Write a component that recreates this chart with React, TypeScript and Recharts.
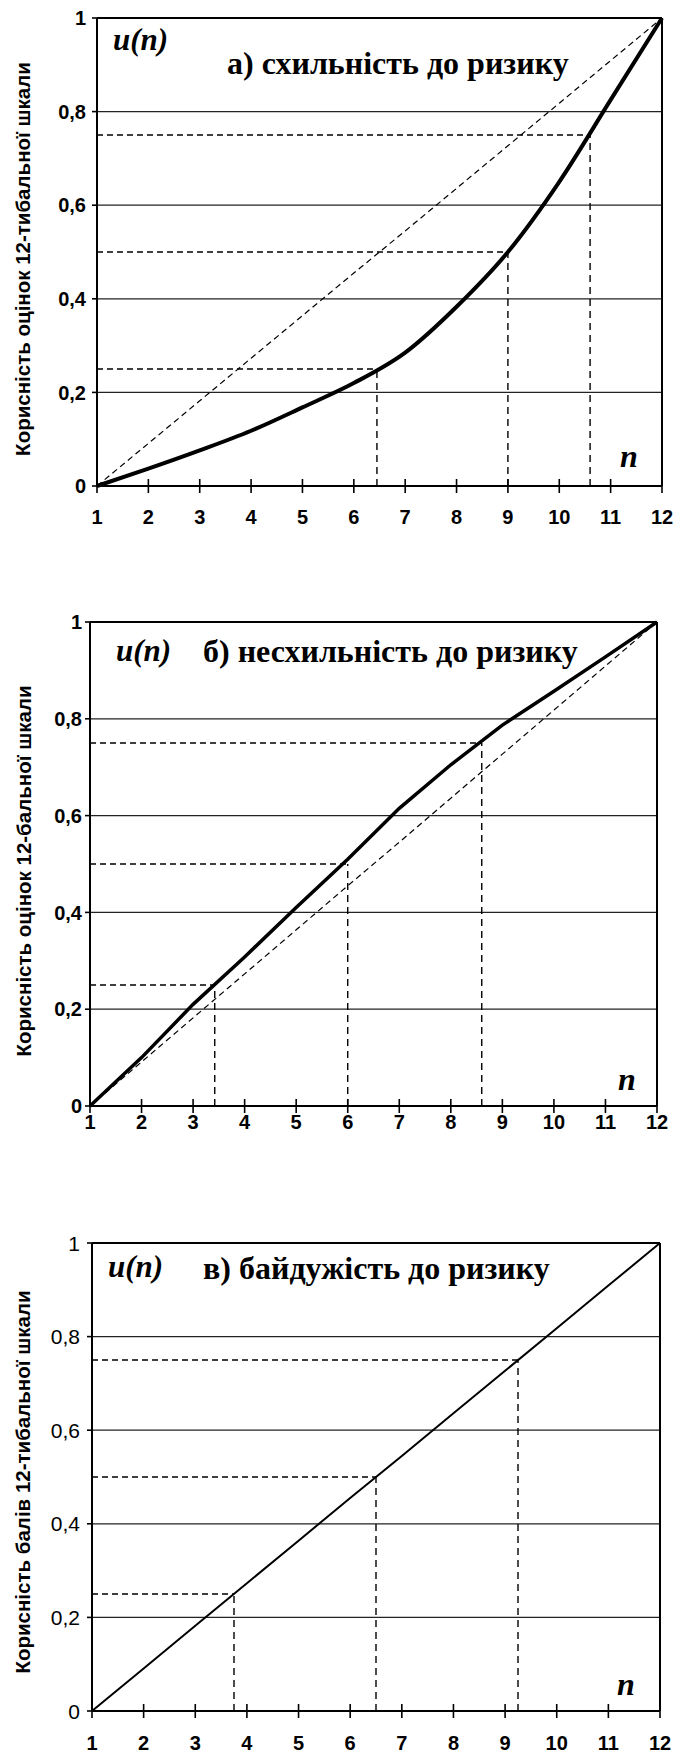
import { CartesianGrid, Line, LineChart, ReferenceLine, XAxis, YAxis } from "recharts";

const nValues = [1, 2, 3, 4, 5, 6, 7, 8, 9, 10, 11, 12];
const yTicks = [0, 0.2, 0.4, 0.6, 0.8, 1];

// а) схильність до ризику
const riskSeeking = [0, 0.037, 0.076, 0.118, 0.168, 0.22, 0.285, 0.383, 0.5, 0.65, 0.825, 1];
// б) несхильність до ризику
const riskAverse = [0, 0.1, 0.21, 0.308, 0.41, 0.51, 0.615, 0.705, 0.787, 0.857, 0.928, 1];
// в) байдужість до ризику
const riskNeutral = [0, 0.091, 0.182, 0.273, 0.364, 0.455, 0.545, 0.636, 0.727, 0.818, 0.909, 1];

const guideLevels = [0.25, 0.5, 0.75];
const seekingCross = [6.45, 9, 10.6];
const averseCross = [3.42, 6, 8.6];
const neutralCross = [3.75, 6.5, 9.25];

const titles = ["а) схильність до ризику", "б) несхильність до ризику", "в) байдужість до ризику"];
const yTitles = [
  "Корисність оцінок 12-тибальної шкали",
  "Корисність оцінок 12-бальної шкали",
  "Корисність балів 12-тибальної шкали",
];

const SANS = "'Liberation Sans', Arial, sans-serif";
const SERIF = "'Liberation Serif', 'Times New Roman', serif";

const formatTick = (v: number) => String(v).replace(".", ",");

function XTick({ x, y, payload, labelOffset }: any) {
  return (
    <g>
      <line x1={x} x2={x} y1={y - 7} y2={y + 7} stroke="#000" strokeWidth={1.6} />
      <text x={x} y={y + labelOffset} textAnchor="middle" fontFamily={SANS} fontWeight="bold" fontSize={20} fill="#000">
        {payload.value}
      </text>
    </g>
  );
}

function YTick({ x, y, payload, bold, size, gap }: any) {
  return (
    <g>
      <line x1={x - 5} x2={x} y1={y} y2={y} stroke="#000" strokeWidth={1.6} />
      <text
        x={x - gap}
        y={y}
        dy="0.36em"
        textAnchor="end"
        fontFamily={SANS}
        fontWeight={bold ? "bold" : "normal"}
        fontSize={size}
        fill="#000"
      >
        {formatTick(payload.value)}
      </text>
    </g>
  );
}

interface PanelProps {
  top: number;
  height: number;
  margin: { top: number; right: number; bottom: number; left: number };
  values: number[];
  cross: number[];
  curveType: "monotone" | "linear";
  curveWidth: number;
  diagonal: boolean;
  boldY: boolean;
  ySize: number;
  yGap: number;
  xOffset: number;
  xHeight: number;
  title: string;
  yTitle: string;
  text: { unX: number; unY: number; tX: number; tY: number; nX: number; nY: number; yX: number; yY: number };
}

function Panel(p: PanelProps) {
  const data = nValues.map((n, i) => ({ n, u: p.values[i], diag: riskNeutral[i] }));
  return (
    <div style={{ position: "absolute", left: 0, top: p.top, width: 674, height: p.height }}>
      <LineChart width={674} height={p.height} data={data} margin={p.margin}>
        <CartesianGrid horizontal vertical={false} stroke="#222" strokeWidth={1.2} />
        <XAxis
          type="number"
          dataKey="n"
          domain={[1, 12]}
          ticks={nValues}
          interval={0}
          height={p.xHeight}
          tickSize={0}
          tickMargin={0}
          axisLine={{ stroke: "#000", strokeWidth: 2 }}
          tick={(props: any) => <XTick {...props} labelOffset={p.xOffset} />}
        />
        <YAxis
          type="number"
          domain={[0, 1]}
          ticks={yTicks}
          width={60}
          tickSize={0}
          tickMargin={0}
          axisLine={{ stroke: "#000", strokeWidth: 2 }}
          tick={(props: any) => <YTick {...props} bold={p.boldY} size={p.ySize} gap={p.yGap} />}
        />
        <ReferenceLine y={1} stroke="#000" strokeWidth={2} />
        <ReferenceLine x={12} stroke="#000" strokeWidth={2} />
        {guideLevels.map((lvl, i) => (
          <ReferenceLine
            key={`h${i}`}
            segment={[
              { x: 1, y: lvl },
              { x: p.cross[i], y: lvl },
            ]}
            stroke="#000"
            strokeWidth={1.4}
            strokeDasharray="6 4"
          />
        ))}
        {guideLevels.map((lvl, i) => (
          <ReferenceLine
            key={`v${i}`}
            segment={[
              { x: p.cross[i], y: 0 },
              { x: p.cross[i], y: lvl },
            ]}
            stroke="#000"
            strokeWidth={1.4}
            strokeDasharray="7 5"
          />
        ))}
        {p.diagonal ? (
          <Line
            type="linear"
            dataKey="diag"
            stroke="#000"
            strokeWidth={1.2}
            strokeDasharray="6 4"
            dot={false}
            activeDot={false}
            isAnimationActive={false}
          />
        ) : null}
        <Line
          type={p.curveType}
          dataKey="u"
          stroke="#000"
          strokeWidth={p.curveWidth}
          dot={false}
          activeDot={false}
          isAnimationActive={false}
        />
      </LineChart>
      <svg
        width={674}
        height={p.height}
        style={{ position: "absolute", left: 0, top: 0, pointerEvents: "none" }}
      >
        <text
          x={p.text.yX}
          y={p.text.yY}
          transform={`rotate(-90 ${p.text.yX} ${p.text.yY})`}
          textAnchor="middle"
          dy="0.35em"
          fontFamily={SANS}
          fontWeight="bold"
          fontSize={20.5}
          fill="#000"
        >
          {p.yTitle}
        </text>
        <text x={p.text.unX} y={p.text.unY} fontFamily={SERIF} fontWeight="bold" fontStyle="italic" fontSize={31} fill="#000">
          u(n)
        </text>
        <text x={p.text.tX} y={p.text.tY} fontFamily={SERIF} fontWeight="bold" fontSize={32} fill="#000">
          {p.title}
        </text>
        <text x={p.text.nX} y={p.text.nY} fontFamily={SERIF} fontWeight="bold" fontStyle="italic" fontSize={32} fill="#000">
          n
        </text>
      </svg>
    </div>
  );
}

export default function App() {
  return (
    <div style={{ position: "absolute", left: 0, top: 0, width: 674, height: 1753, background: "#fff" }}>
      <Panel
        top={0}
        height={540}
        margin={{ top: 18, right: 12, bottom: 14, left: 37 }}
        values={riskSeeking}
        cross={seekingCross}
        curveType="monotone"
        curveWidth={4}
        diagonal
        boldY
        ySize={20}
        yGap={11}
        xOffset={38}
        xHeight={40}
        title={titles[0]}
        yTitle={yTitles[0]}
        text={{ unX: 113, unY: 50, tX: 227, tY: 74, nX: 620, nY: 467, yX: 23, yY: 259 }}
      />
      <Panel
        top={560}
        height={580}
        margin={{ top: 62, right: 17, bottom: 4, left: 30 }}
        values={riskAverse}
        cross={averseCross}
        curveType="linear"
        curveWidth={3.5}
        diagonal
        boldY
        ySize={20}
        yGap={8}
        xOffset={23}
        xHeight={30}
        title={titles[1]}
        yTitle={yTitles[1]}
        text={{ unX: 116, unY: 101, tX: 203, tY: 102, nX: 618, nY: 530, yX: 24, yY: 311 }}
      />
      <Panel
        top={1180}
        height={573}
        margin={{ top: 63, right: 14, bottom: 2, left: 32 }}
        values={riskNeutral}
        cross={neutralCross}
        curveType="linear"
        curveWidth={2}
        diagonal={false}
        boldY={false}
        ySize={21}
        yGap={12}
        xOffset={39}
        xHeight={40}
        title={titles[2]}
        yTitle={yTitles[2]}
        text={{ unX: 108, unY: 97, tX: 203, tY: 99, nX: 617, nY: 515, yX: 23, yY: 302 }}
      />
    </div>
  );
}
